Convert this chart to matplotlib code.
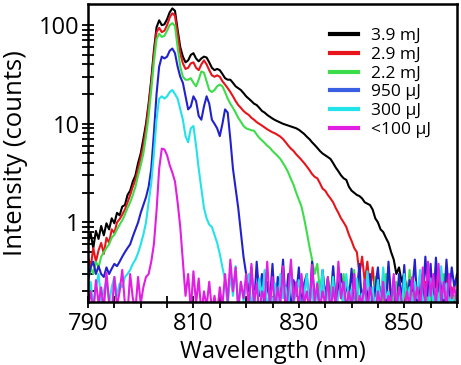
import numpy as np
import matplotlib
matplotlib.use("Agg")
import matplotlib.pyplot as plt
from matplotlib.ticker import FixedLocator, FixedFormatter, NullFormatter
from matplotlib.lines import Line2D

plt.rcParams['font.family'] = ['Open Sans', 'DejaVu Sans']

# wavelength samples (nm), 0.5 nm step from 790 to 860
wavelength = np.linspace(790, 860, 141)

labels = ["3.9 mJ", "2.9 mJ", "2.2 mJ", "950 µJ", "300 µJ", "<100 µJ"]
colors = ["#000000", "#e8141c", "#3ddc4a", "#2222cc", "#22e2ea", "#e21ee2"]
legend_colors = ["#000000", "#e8141c", "#3ddc4a", "#3a5fe0", "#22e2ea", "#e21ee2"]

intensity_39mJ = [
    0.62, 0.78, 0.55, 0.82, 0.68, 0.92, 0.74, 0.98, 0.85, 1.10,
    0.98, 1.25, 1.18, 1.45, 1.50, 1.90, 2.10, 2.60, 3.00, 4.00,
    5.0, 7.0, 10, 16, 28, 55, 95, 112, 100, 102,
    115, 135, 148, 140, 90, 60, 48, 42, 44, 50,
    52, 46, 43, 46, 48, 47, 42, 37, 35, 36,
    35, 32, 29, 28, 28, 26, 24, 23, 22, 20.5,
    19, 18, 17, 16, 15.5, 14.5, 13.5, 13, 12.3, 11.8,
    11.3, 10.9, 10.6, 10.3, 10.0, 9.8, 9.6, 9.4, 9.2, 9.0,
    8.7, 8.3, 7.9, 7.4, 7.0, 6.5, 6.1, 5.7, 5.3, 5.0,
    4.8, 4.6, 4.4, 4.0, 3.6, 3.3, 3.0, 2.8, 2.7, 2.3,
    2.1, 2.0, 1.9, 1.85, 1.75, 1.6, 1.55, 1.5, 1.35, 1.1,
    1.0, 0.85, 0.8, 0.7, 0.62, 0.5, 0.42, 0.3, 0.35, 0.25,
    0.3, 0.18, 0.28, 0.15, 0.22, 0.12, 0.26, 0.16, 0.2, 0.13,
    0.24, 0.14, 0.3, 0.17, 0.22, 0.12, 0.27, 0.15, 0.2, 0.14,
    0.18]

intensity_29mJ = [
    0.45, 0.35, 0.55, 0.40, 0.52, 0.62, 0.48, 0.70, 0.62, 0.85,
    0.78, 1.00, 1.08, 1.20, 1.35, 1.60, 1.90, 2.30, 2.70, 3.50,
    4.5, 6.0, 9, 15, 26, 50, 85, 94, 85, 88,
    100, 120, 132, 125, 80, 52, 41, 36, 37, 41,
    42, 37, 35, 40, 44, 40, 35, 31, 30, 31,
    30, 27, 25, 23, 21, 19, 17, 15.5, 14.5, 13.5,
    12.8, 12.3, 11.5, 11.0, 10.4, 10.0, 9.6, 9.2, 8.8, 8.5,
    8.2, 8.0, 7.7, 7.4, 7.0, 6.5, 6.0, 5.6, 5.3, 4.9,
    4.6, 4.3, 4.0, 3.7, 3.4, 3.1, 2.9, 2.8, 2.5, 2.2,
    2.1, 1.9, 1.75, 1.6, 1.4, 1.25, 1.1, 1.0, 0.9, 0.75,
    0.65, 0.55, 0.5, 0.3, 0.45, 0.25, 0.4, 0.2, 0.35, 0.18,
    0.3, 0.15, 0.28, 0.2, 0.35, 0.12, 0.25, 0.16, 0.22, 0.13,
    0.2, 0.12, 0.17, 0.14, 0.22, 0.12, 0.16, 0.13, 0.25, 0.14,
    0.3, 0.15, 0.35, 0.18, 0.24, 0.13, 0.32, 0.16, 0.22, 0.13,
    0.2]

intensity_22mJ = [
    0.25, 0.35, 0.30, 0.40, 0.35, 0.45, 0.50, 0.55, 0.60, 0.70,
    0.75, 0.85, 0.95, 1.05, 1.20, 1.40, 1.60, 1.90, 2.30, 3.00,
    3.8, 5.0, 7.5, 12, 22, 42, 72, 82, 76, 78,
    88, 100, 105, 98, 60, 38, 30, 28, 28, 29,
    26, 24, 28, 34, 33, 27, 22, 21, 22, 24,
    25, 24, 21, 18, 16, 14.5, 13, 11.5, 10.5, 9.5,
    9.0, 8.8, 8.6, 8.5, 7.8, 7.2, 6.8, 6.4, 6.0, 5.7,
    5.3, 5.0, 4.7, 4.4, 4.0, 3.6, 3.2, 2.75, 2.4, 2.0,
    1.7, 1.45, 1.1, 0.8, 0.57, 0.42, 0.3, 0.38, 0.2, 0.32,
    0.15, 0.28, 0.18, 0.35, 0.13, 0.26, 0.17, 0.3, 0.12, 0.22,
    0.16, 0.33, 0.14, 0.27, 0.18, 0.24, 0.12, 0.2, 0.15, 0.28,
    0.13, 0.22, 0.16, 0.3, 0.12, 0.2, 0.14, 0.25, 0.17, 0.12,
    0.22, 0.14, 0.33, 0.15, 0.2, 0.12, 0.18, 0.3, 0.14, 0.2,
    0.16, 0.26, 0.13, 0.2, 0.15, 0.3, 0.12, 0.22, 0.14, 0.18,
    0.15]

intensity_950uJ = [
    0.26, 0.35, 0.40, 0.30, 0.36, 0.30, 0.28, 0.35, 0.30, 0.34,
    0.38, 0.36, 0.40, 0.45, 0.50, 0.55, 0.60, 0.72, 0.85, 1.00,
    1.25, 1.5, 1.8, 2.3, 3.5, 8, 20, 38, 48, 46,
    48, 55, 58, 52, 38, 30, 26, 19, 14, 15,
    19, 17, 12, 11, 15, 19, 16, 11, 10, 9,
    7.5, 10, 14, 13, 7, 3.5, 2.2, 1.4, 0.8, 0.45,
    0.3, 0.2, 0.35, 0.14, 0.4, 0.18, 0.3, 0.12, 0.25, 0.16,
    0.38, 0.13, 0.28, 0.2, 0.42, 0.15, 0.3, 0.12, 0.26, 0.18,
    0.35, 0.14, 0.24, 0.3, 0.13, 0.4, 0.16, 0.22, 0.12, 0.33,
    0.18, 0.27, 0.13, 0.36, 0.15, 0.22, 0.3, 0.12, 0.25, 0.17,
    0.34, 0.14, 0.2, 0.38, 0.13, 0.26, 0.16, 0.3, 0.12, 0.22,
    0.35, 0.15, 0.28, 0.13, 0.4, 0.17, 0.24, 0.12, 0.3, 0.16,
    0.37, 0.13, 0.26, 0.2, 0.42, 0.14, 0.3, 0.16, 0.45, 0.18,
    0.38, 0.13, 0.44, 0.2, 0.3, 0.14, 0.42, 0.18, 0.35, 0.22,
    0.3]

intensity_300uJ = [
    0.18, 0.25, 0.14, 0.22, 0.30, 0.16, 0.20, 0.26, 0.15, 0.22,
    0.28, 0.18, 0.24, 0.22, 0.28, 0.30, 0.33, 0.38, 0.42, 0.49,
    0.60, 0.75, 1.0, 1.6, 2.5, 5, 11, 18, 19, 18,
    19, 21, 22, 20, 18, 14, 11, 7.5, 6.5, 9,
    9.5, 6, 3.5, 2.2, 1.4, 1.1, 0.95, 0.9, 0.75, 0.62,
    0.48, 0.35, 0.26, 0.14, 0.3, 0.18, 0.36, 0.13, 0.25, 0.16,
    0.22, 0.3, 0.14, 0.2, 0.12, 0.27, 0.16, 0.33, 0.13, 0.2,
    0.15, 0.24, 0.12, 0.3, 0.17, 0.22, 0.13, 0.36, 0.15, 0.2,
    0.26, 0.12, 0.18, 0.3, 0.14, 0.21, 0.12, 0.25, 0.16, 0.33,
    0.13, 0.2, 0.15, 0.28, 0.12, 0.18, 0.24, 0.14, 0.3, 0.16,
    0.21, 0.12, 0.27, 0.15, 0.19, 0.13, 0.32, 0.16, 0.22, 0.12,
    0.26, 0.14, 0.35, 0.17, 0.2, 0.13, 0.28, 0.15, 0.18, 0.12,
    0.3, 0.16, 0.22, 0.13, 0.25, 0.17, 0.33, 0.14, 0.2, 0.12,
    0.27, 0.15, 0.21, 0.13, 0.36, 0.17, 0.24, 0.14, 0.19, 0.12,
    0.2]

intensity_100uJ = [
    0.14, 0.2, 0.12, 0.26, 0.15, 0.22, 0.13, 0.31, 0.16, 0.12,
    0.28, 0.14, 0.2, 0.33, 0.15, 0.12, 0.3, 0.17, 0.13, 0.28,
    0.15, 0.22, 0.28, 0.3, 0.4, 0.6, 1.3, 3.5, 5.6, 5.5,
    4.8, 3.8, 3.2, 2.6, 1.6, 0.9, 0.4, 0.18, 0.3, 0.13,
    0.32, 0.15, 0.27, 0.12, 0.2, 0.14, 0.25, 0.13, 0.18, 0.12,
    0.22, 0.14, 0.3, 0.16, 0.42, 0.2, 0.35, 0.13, 0.25, 0.17,
    0.3, 0.13, 0.38, 0.15, 0.24, 0.12, 0.2, 0.16, 0.4, 0.14,
    0.28, 0.13, 0.22, 0.15, 0.36, 0.12, 0.2, 0.42, 0.16, 0.25,
    0.13, 0.3, 0.15, 0.2, 0.12, 0.37, 0.16, 0.24, 0.13, 0.2,
    0.15, 0.28, 0.12, 0.22, 0.14, 0.4, 0.17, 0.25, 0.13, 0.2,
    0.14, 0.3, 0.12, 0.18, 0.15, 0.26, 0.13, 0.22, 0.16, 0.12,
    0.2, 0.14, 0.25, 0.12, 0.18, 0.15, 0.3, 0.13, 0.22, 0.16,
    0.12, 0.2, 0.14, 0.28, 0.16, 0.22, 0.13, 0.35, 0.15, 0.4,
    0.18, 0.3, 0.14, 0.38, 0.16, 0.25, 0.13, 0.3, 0.17, 0.22,
    0.15]

series = [intensity_39mJ, intensity_29mJ, intensity_22mJ,
          intensity_950uJ, intensity_300uJ, intensity_100uJ]

x_major = [790, 810, 830, 850]
x_minor = [795, 800, 805, 815, 820, 825, 835, 840, 845, 855, 860]
y_major = [1, 10, 100]
y_major_labels = ["1", "10", "100"]

fig = plt.figure(figsize=(4.61, 3.65), dpi=100)
ax = fig.add_axes([88 / 461, 63 / 365, 369 / 461, 298 / 365])

for vals, c in zip(series, colors):
    ax.plot(wavelength, vals, color=c, lw=1.5, solid_joinstyle='round')

ax.set_yscale('log')
ax.set_xlim(790, 860)
ax.set_ylim(0.156, 164)

ax.xaxis.set_major_locator(FixedLocator(x_major))
ax.xaxis.set_minor_locator(FixedLocator(x_minor))
ax.yaxis.set_major_locator(FixedLocator(y_major))
ax.yaxis.set_major_formatter(FixedFormatter(y_major_labels))
minor_y = [m * d for d in (0.1, 1, 10) for m in range(2, 10)]
ax.yaxis.set_minor_locator(FixedLocator(minor_y))
ax.yaxis.set_minor_formatter(NullFormatter())

ax.tick_params(which='both', direction='inout', width=1.3, length=8,
               labelsize=17, pad=2)
ax.tick_params(axis='x', which='major', pad=3)
for s in ax.spines.values():
    s.set_linewidth(1.8)

ax.set_xlabel("Wavelength (nm)", fontsize=17, labelpad=3)
ax.set_ylabel("Intensity (counts)", fontsize=18.5, labelpad=8)

handles = [Line2D([0], [0], color=c, lw=3) for c in legend_colors]
ax.legend(handles, labels, loc='upper left', frameon=False, fontsize=12.5,
          handlelength=1.6, handletextpad=0.75, labelspacing=0.15,
          borderaxespad=0.0, borderpad=0.4, bbox_to_anchor=(0.638, 0.943))

fig.savefig("out.png", dpi=100)
